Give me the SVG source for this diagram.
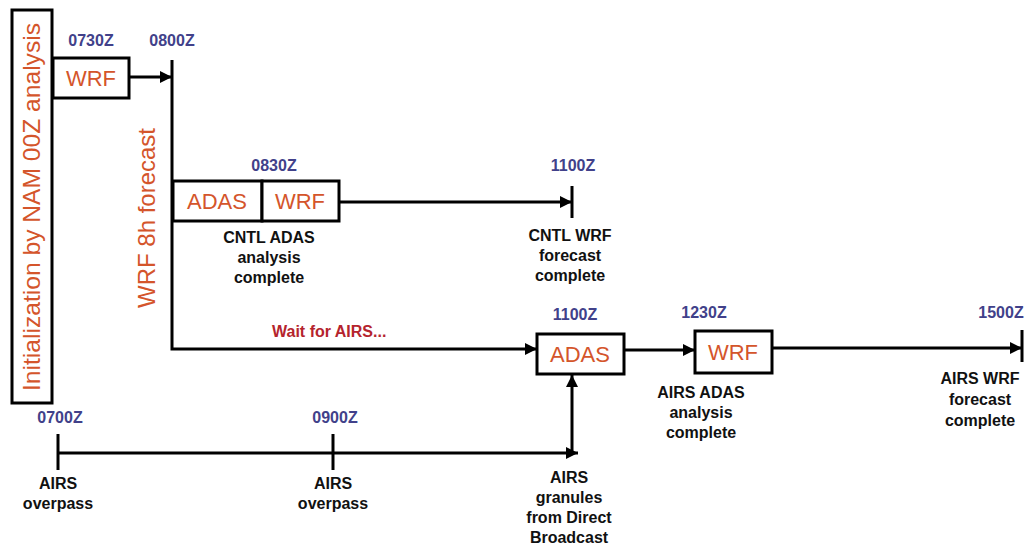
<svg xmlns="http://www.w3.org/2000/svg" width="1027" height="546" viewBox="0 0 1027 546">
  <style>
    .box{fill:#fff;stroke:#000;stroke-width:3}
    .ln{fill:none;stroke:#000;stroke-width:3}
    .tick{fill:none;stroke:#000;stroke-width:3}
    .proc{font-family:"Liberation Sans",Arial,sans-serif;font-size:22px;fill:#d4552b;text-anchor:middle}
    .vert{font-family:"Liberation Sans",Arial,sans-serif;font-size:24px;fill:#d4552b;text-anchor:middle}
    .time{font-family:"Liberation Sans",Arial,sans-serif;font-size:16px;font-weight:bold;fill:#41418a;text-anchor:middle}
    .lab{font-family:"Liberation Sans",Arial,sans-serif;font-size:16px;font-weight:bold;fill:#111;text-anchor:middle}
    .wait{font-family:"Liberation Sans",Arial,sans-serif;font-size:16px;font-weight:bold;fill:#b5242d}
  </style>
  <defs>
    <marker id="ah" viewBox="0 0 10 10" refX="10" refY="5" markerUnits="userSpaceOnUse" markerWidth="14" markerHeight="12" orient="auto">
      <path d="M0,0 L10,5 L0,10 z" fill="#000"/>
    </marker>
  </defs>
  <rect width="1027" height="546" fill="#fff"/>

  <g id="connectors">
    <path class="ln" d="M129,77 H172" marker-end="url(#ah)"/>
    <path class="ln" d="M172,60 V349 H537" marker-end="url(#ah)"/>
    <path class="ln" d="M339,202 H572" marker-end="url(#ah)"/>
    <path class="tick" d="M572,186 V218"/>
    <path class="ln" d="M624,350 H695" marker-end="url(#ah)"/>
    <path class="ln" d="M772,348 H1022" marker-end="url(#ah)"/>
    <path class="tick" d="M1022,330 V362"/>
    <path class="ln" d="M58,453 H578" marker-end="url(#ah)"/>
    <path class="tick" d="M58,434 V470"/>
    <path class="tick" d="M333,434 V470"/>
    <path class="ln" d="M572,453 V375" marker-end="url(#ah)"/>
  </g>

  <g id="init">
    <rect class="box" x="12" y="10" width="40" height="393"/>
    <text class="vert" transform="translate(40,207) rotate(-90)" textLength="368" lengthAdjust="spacingAndGlyphs">Initialization by NAM 00Z analysis</text>
  </g>

  <g id="wrf-first">
    <rect class="box" x="53" y="58" width="76" height="40"/>
    <text class="proc" x="91" y="86">WRF</text>
    <text class="time" x="91" y="46">0730Z</text>
  </g>

  <g id="t0800">
    <text class="time" x="172" y="46">0800Z</text>
    <text class="vert" transform="translate(155,218) rotate(-90)">WRF 8h forecast</text>
  </g>

  <g id="cntl-adas">
    <rect class="box" x="173" y="181" width="89" height="40"/>
    <text class="proc" x="217" y="209">ADAS</text>
    <text class="time" x="274" y="171">0830Z</text>
    <text class="lab" x="269" y="243">CNTL ADAS</text>
    <text class="lab" x="269" y="263">analysis</text>
    <text class="lab" x="269" y="283">complete</text>
  </g>

  <g id="cntl-wrf">
    <rect class="box" x="262" y="181" width="77" height="40"/>
    <text class="proc" x="300" y="209">WRF</text>
  </g>

  <g id="cntl-wrf-complete">
    <text class="time" x="573" y="171">1100Z</text>
    <text class="lab" x="570" y="241">CNTL WRF</text>
    <text class="lab" x="570" y="261">forecast</text>
    <text class="lab" x="570" y="281">complete</text>
  </g>

  <g id="wait">
    <text class="wait" x="272" y="337">Wait for AIRS...</text>
  </g>

  <g id="airs-adas">
    <rect class="box" x="537" y="334" width="87" height="40"/>
    <text class="proc" x="580" y="362">ADAS</text>
    <text class="time" x="575" y="320">1100Z</text>
  </g>

  <g id="airs-wrf">
    <rect class="box" x="695" y="331" width="77" height="42"/>
    <text class="proc" x="733" y="360">WRF</text>
    <text class="time" x="704" y="318">1230Z</text>
    <text class="lab" x="701" y="398">AIRS ADAS</text>
    <text class="lab" x="701" y="418">analysis</text>
    <text class="lab" x="701" y="438">complete</text>
  </g>

  <g id="airs-wrf-complete">
    <text class="time" x="1001" y="318">1500Z</text>
    <text class="lab" x="980" y="384">AIRS WRF</text>
    <text class="lab" x="980" y="405">forecast</text>
    <text class="lab" x="980" y="426">complete</text>
  </g>

  <g id="overpass1">
    <text class="time" x="60" y="423">0700Z</text>
    <text class="lab" x="58" y="489">AIRS</text>
    <text class="lab" x="58" y="509">overpass</text>
  </g>

  <g id="overpass2">
    <text class="time" x="335" y="423">0900Z</text>
    <text class="lab" x="333" y="489">AIRS</text>
    <text class="lab" x="333" y="509">overpass</text>
  </g>

  <g id="granules">
    <text class="lab" x="569" y="483">AIRS</text>
    <text class="lab" x="569" y="503">granules</text>
    <text class="lab" x="569" y="523">from Direct</text>
    <text class="lab" x="569" y="543">Broadcast</text>
  </g>
</svg>
